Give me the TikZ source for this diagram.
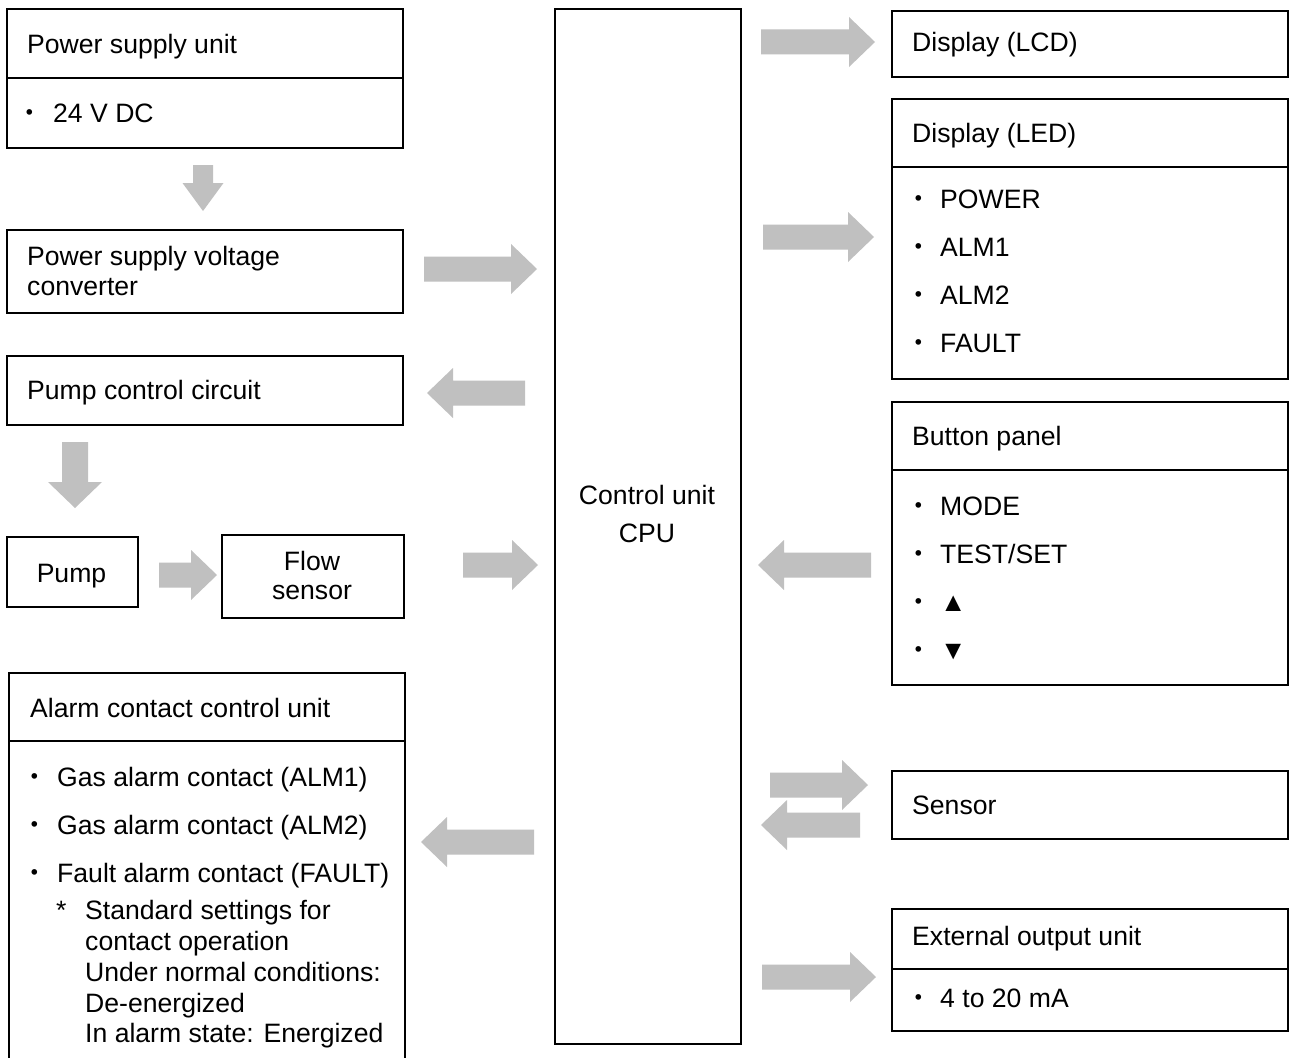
\documentclass[tikz,border=0pt]{standalone}
\usepackage{fontspec}
\setmainfont{Liberation Sans}
\newfontfamily\cjk{Noto Sans CJK JP}
\definecolor{arrgray}{RGB}{192,192,192}
\newcommand{\fs}{\fontsize{26.6pt}{30.5pt}\selectfont}
% right-pointing block arrow: start x, tip x, centre y
\newcommand{\garR}[3]{\fill[arrgray] (#1,#3-12.5) -- (#2-26,#3-12.5) -- (#2-26,#3-25) -- (#2,#3) -- (#2-26,#3+25) -- (#2-26,#3+12.5) -- (#1,#3+12.5) -- cycle;}
% left-pointing block arrow: tip x, end x, centre y
\newcommand{\garL}[3]{\fill[arrgray] (#2,#3-12.5) -- (#1+26,#3-12.5) -- (#1+26,#3-25) -- (#1,#3) -- (#1+26,#3+25) -- (#1+26,#3+12.5) -- (#2,#3+12.5) -- cycle;}
% down-pointing block arrow: centre x, top y, tip y, shaft half, head half, head length
\newcommand{\garD}[6]{\fill[arrgray] (#1-#4,#2) -- (#1-#4,#3-#6) -- (#1-#5,#3-#6) -- (#1,#3) -- (#1+#5,#3-#6) -- (#1+#4,#3-#6) -- (#1+#4,#2) -- cycle;}
\begin{document}
\begin{tikzpicture}[x=1pt,y=-1pt,
  box/.style={draw=black,line width=1.6pt,rectangle,inner sep=0pt,anchor=north west},
  txt/.style={anchor=base west,inner sep=0pt,font=\fs},
  ctxt/.style={anchor=base,inner sep=0pt,font=\fs},
  bul/.style={anchor=base,inner sep=0pt,font=\fs\cjk},
  divider/.style={line width=1.6pt}]
\useasboundingbox[fill=white] (0,0) rectangle (1292,1057);

% ---------- boxes ----------
\node[box,minimum width=396pt,minimum height=139pt] (psu) at (6,8) {};
\node[box,minimum width=396pt,minimum height=83pt] (conv) at (6,229) {};
\node[box,minimum width=396pt,minimum height=69pt] (pcc) at (6,355) {};
\node[box,minimum width=131pt,minimum height=70pt] (pump) at (6,536) {};
\node[box,minimum width=182pt,minimum height=83pt] (flow) at (221,534) {};
\node[box,minimum width=186pt,minimum height=1035pt] (cpu) at (554,8) {};
\node[box,minimum width=396pt,minimum height=66pt] (lcd) at (891,10) {};
\node[box,minimum width=396pt,minimum height=280pt] (led) at (891,98) {};
\node[box,minimum width=396pt,minimum height=283pt] (btn) at (891,401) {};
\node[box,minimum width=396pt,minimum height=68pt] (sens) at (891,770) {};
\node[box,minimum width=396pt,minimum height=122pt] (ext) at (891,908) {};
\coordinate (alBL) at (9,1075);
\coordinate (alTL) at (9,673);
\coordinate (alTR) at (405,673);
\coordinate (alBR) at (405,1075);
\draw[line width=1.6pt] (alBL) -- (alTL) -- (alTR) -- (alBR);

% dividers
\draw[divider] (6,78) -- (402,78);
\draw[divider] (891,167) -- (1287,167);
\draw[divider] (891,470) -- (1287,470);
\draw[divider] (891,969) -- (1287,969);
\draw[divider] (9,741) -- (405,741);

% ---------- texts ----------
\node[txt] (t-psu) at (27,53) {Power supply unit};
\node[bul] (b-psu) at (30,122) {・};
\node[txt] (t-24v) at (53,122) {24 V DC};

\node[txt] (t-conv1) at (27,265) {Power supply voltage};
\node[txt] (t-conv2) at (27,295) {converter};

\node[txt] (t-pcc) at (27,399) {Pump control circuit};
\node[ctxt] (t-pump) at (71.5,582) {Pump};
\node[ctxt] (t-flow1) at (312,570) {Flow};
\node[ctxt] (t-flow2) at (312,599) {sensor};

\node[txt] (t-al) at (30,717) {Alarm contact control unit};
\node[bul] (b-al1) at (35,786) {・};
\node[txt] (t-al1) at (57,786) {Gas alarm contact (ALM1)};
\node[bul] (b-al2) at (35,834) {・};
\node[txt] (t-al2) at (57,834) {Gas alarm contact (ALM2)};
\node[bul] (b-al3) at (35,882) {・};
\node[txt] (t-al3) at (57,882) {Fault alarm contact (FAULT)};
\node[txt] (t-star) at (56,919) {*};
\node[txt] (t-n1) at (85,919) {Standard settings for};
\node[txt] (t-n2) at (85,950) {contact operation};
\node[txt] (t-n3) at (85,981) {Under normal conditions:};
\node[txt] (t-n4) at (85,1012) {De-energized};
\node[txt] (t-n5) at (85,1042) {In alarm state: Energized};

\node[ctxt] (t-cpu1) at (647,504) {Control unit};
\node[ctxt] (t-cpu2) at (647,542) {CPU};

\node[txt] (t-lcd) at (912,52) {Display (LCD)};
\node[txt] (t-led) at (912,142) {Display (LED)};
\node[bul] (b-led1) at (919,208) {・};
\node[txt] (t-led1) at (940,208) {POWER};
\node[bul] (b-led2) at (919,256) {・};
\node[txt] (t-led2) at (940,256) {ALM1};
\node[bul] (b-led3) at (919,304) {・};
\node[txt] (t-led3) at (940,304) {ALM2};
\node[bul] (b-led4) at (919,352) {・};
\node[txt] (t-led4) at (940,352) {FAULT};

\node[txt] (t-btn) at (912,445) {Button panel};
\node[bul] (b-btn1) at (919,515) {・};
\node[txt] (t-btn1) at (940,515) {MODE};
\node[bul] (b-btn2) at (919,563) {・};
\node[txt] (t-btn2) at (940,563) {TEST/SET};
\node[bul] (b-btn3) at (919,611) {・};
\node[txt] (t-btn3) at (940,611) {▲};
\node[bul] (b-btn4) at (919,659) {・};
\node[txt] (t-btn4) at (940,659) {▼};

\node[txt] (t-sens) at (912,814) {Sensor};
\node[txt] (t-ext) at (912,945) {External output unit};
\node[bul] (b-ext) at (919,1007) {・};
\node[txt] (t-ext1) at (940,1007) {4 to 20 mA};

% ---------- block arrows ----------
\garD{203}{165}{211}{10}{20.5}{28}
\garR{424}{537}{269}
\garL{427}{525}{393}
\garD{75}{442}{508}{13}{27}{26}
\garR{159}{217}{575}
\garR{463}{538}{565}
\garL{421}{534}{842}
\garR{761}{875}{42}
\garR{763}{874}{237}
\garL{758}{871}{565}
\garR{770}{868}{785}
\garL{761}{860}{825}
\garR{762}{876}{977}
\end{tikzpicture}
\end{document}
